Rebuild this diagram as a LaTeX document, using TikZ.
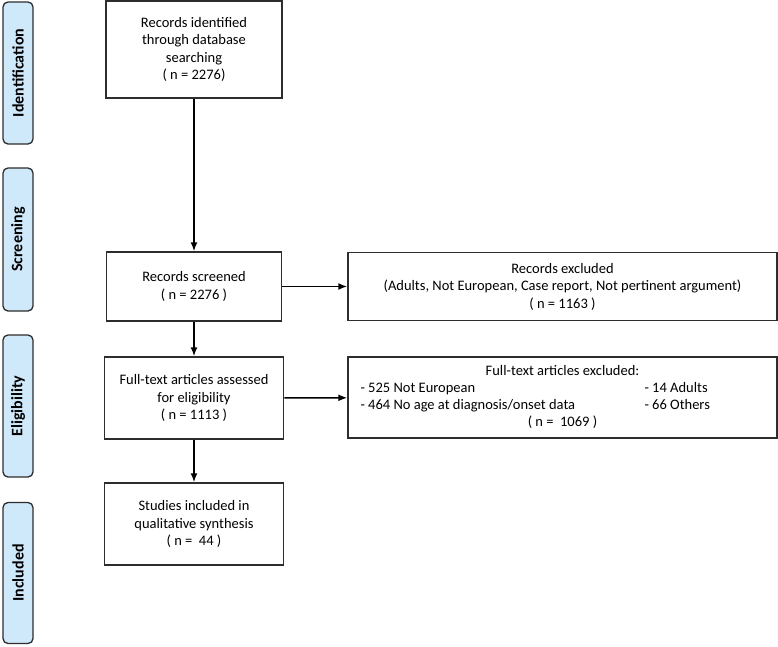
\documentclass[tikz,border=0pt]{standalone}
\usepackage{fontspec}
\setmainfont{Carlito}
\usepackage{array}
\usetikzlibrary{arrows.meta}
\definecolor{sidebar}{RGB}{207,232,250}
\definecolor{edge}{RGB}{45,45,45}
\tikzset{
  box/.style={draw=edge, line width=1.5pt, align=center, inner sep=0pt,
    font=\fontsize{14.5}{17.5}\selectfont},
  phase/.style={draw=edge, line width=1.3pt, fill=sidebar, rounded corners=5pt,
    minimum width=30, inner sep=0pt},
  phaselabel/.style={rotate=90, font=\bfseries\fontsize{16}{18}\selectfont},
  link/.style={-{Latex[length=9pt,width=7pt]}, line width=1.5pt}
}
\begin{document}
\begin{tikzpicture}[x=1pt, y=-1pt]
		%%%%% START %%%%%
		
		\useasboundingbox (0,0) rectangle (778,646);
		
		% phase bars on the left
		\node[phase, minimum height=142] (ident) at (18,73) {};
		\node[phaselabel] at (ident) {Identification};
		\node[phase, minimum height=143] (screen) at (18,239.5) {};
		\node[phaselabel] at (screen) {Screening};
		\node[phase, minimum height=142] (elig) at (18,406) {};
		\node[phaselabel] at (elig) {Eligibility};
		\node[phase, minimum height=141] (incl) at (18,573) {};
		\node[phaselabel] at (incl) {Included};
		
		% main column
		\node[box, minimum width=176, minimum height=97] (ident_box) at (194,49.5)
			{Records identified\\through database\\searching\\( n = 2276)};
		\node[box, minimum width=175, minimum height=69] (screen_box) at (194,286.5)
			{Records screened\\( n = 2276 )};
		\node[box, minimum width=179, minimum height=82] (elig_box) at (194,398)
			{Full-text articles assessed\\for eligibility\\( n = 1113 )};
		\node[box, minimum width=179, minimum height=82] (incl_box) at (194,524)
			{Studies included in\\qualitative synthesis\\( n =~~44 )};
		
		% exclusions on the right
		\node[box, minimum width=429, minimum height=68] (screen_excl) at (562.5,286.5)
			{Records excluded\\(Adults, Not European, Case report, Not pertinent argument)\\( n = 1163 )};
		\node[box, minimum width=429, minimum height=81] (elig_excl) at (562.5,397.5)
			{\renewcommand{\arraystretch}{0.98}%
			\begin{tabular}{@{}p{284pt}@{}p{120pt}@{}}
				\multicolumn{2}{c}{Full-text articles excluded:}\\
				- 525 Not European & - 14 Adults\\
				- 464 No age at diagnosis/onset data & - 66 Others\\
				\multicolumn{2}{c}{( n =~~1069 )}
			\end{tabular}};
		
		\draw[link] (ident_box) -- (screen_box);
		\draw[link] (screen_box) -- (elig_box);
		\draw[link] (elig_box) -- (incl_box);
		\draw[link] (screen_box) -- (screen_excl);
		\draw[link] (elig_box) -- (elig_excl);
		
		%%%%% END %%%%%
	\end{tikzpicture}
\end{document}
